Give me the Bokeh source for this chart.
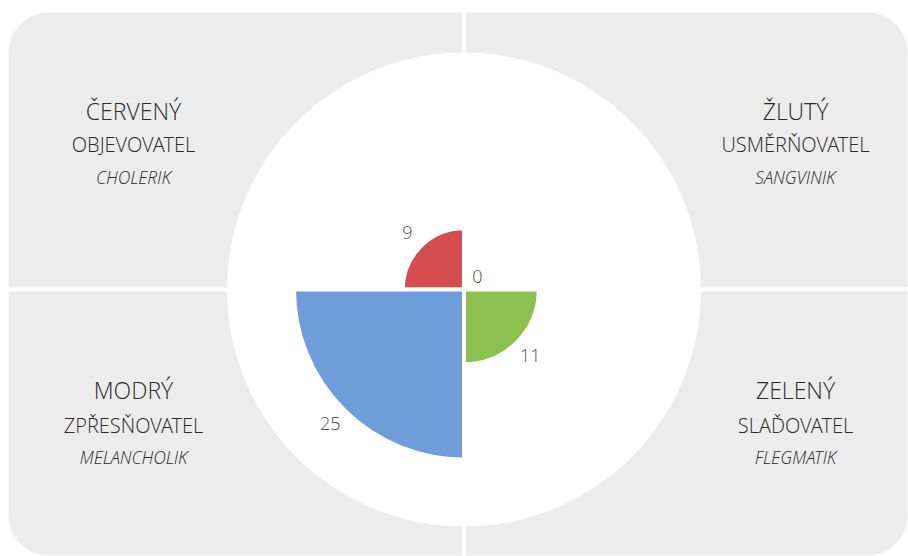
import numpy as np
from bokeh.plotting import figure
from bokeh.models import Range1d, BoxAnnotation, ColumnDataSource
from bokeh.core.properties import value
from bokeh.embed import file_html
from bokeh.resources import INLINE

# ---- data ----
colors_names = ["ČERVENÝ", "ŽLUTÝ", "ZELENÝ", "MODRÝ"]
roles = ["OBJEVOVATEL", "USMĚRŇOVATEL", "SLAĎOVATEL", "ZPŘESŇOVATEL"]
temperaments = ["CHOLERIK", "SANGVINIK", "FLEGMATIK", "MELANCHOLIK"]
counts = [9, 0, 11, 25]
fills = ["#D44D4F", "#F6BB42", "#8CC152", "#6F9DD9"]
start_deg = [90, 0, 270, 180]
end_deg = [180, 90, 360, 270]

# ---- layout (screen px -> data units, 1:1) ----
W, H = 908, 556
def sy(s):
    return 556 - s

cx, cy = 463.5, sy(289)
px_per_unit = 6.8
FONT = value("Open Sans Light, Open Sans")

p = figure(width=W, height=H, x_range=Range1d(0, 908), y_range=Range1d(0, 556),
           output_backend="svg", toolbar_location=None, min_border=0,
           background_fill_color="white", border_fill_color="white")
p.axis.visible = False
p.grid.visible = False
p.outline_line_color = None

panel = "#ECECEC"
p.add_layout(BoxAnnotation(left=8, right=461.5, top=sy(12), bottom=sy(287),
                           fill_color=panel, fill_alpha=1, line_color=None,
                           border_radius=(40, 0, 0, 0), level="underlay"))
p.add_layout(BoxAnnotation(left=465.5, right=907, top=sy(12), bottom=sy(287),
                           fill_color=panel, fill_alpha=1, line_color=None,
                           border_radius=(0, 40, 0, 0), level="underlay"))
p.add_layout(BoxAnnotation(left=465.5, right=907, top=sy(291), bottom=sy(555),
                           fill_color=panel, fill_alpha=1, line_color=None,
                           border_radius=(0, 0, 40, 0), level="underlay"))
p.add_layout(BoxAnnotation(left=8, right=461.5, top=sy(291), bottom=sy(555),
                           fill_color=panel, fill_alpha=1, line_color=None,
                           border_radius=(0, 0, 0, 40), level="underlay"))

# white disc
p.circle(x=[cx], y=[cy], radius=237, fill_color="white", line_color=None)

r = np.array(counts, dtype=float) * px_per_unit
mid = np.deg2rad((np.array(start_deg) + np.array(end_deg)) / 2.0)
src = ColumnDataSource(dict(
    r=r, start=np.deg2rad(start_deg), end=np.deg2rad(end_deg), color=fills,
    lx=cx + (r + 19) * np.cos(mid), ly=cy + (r + 19) * np.sin(mid),
    label=[str(c) for c in counts]))

p.wedge(x=cx, y=cy, radius="r", start_angle="start", end_angle="end",
        fill_color="color", line_color="white",
        line_width=4, source=src)
p.text(x="lx", y="ly", text="label", source=src, text_align="center",
       text_baseline="middle", text_font_size="18px", text_color="#505050",
       text_font=FONT)

# quadrant captions (vertical centres of the capitals)
qx = [133, 795, 795, 133]
line1 = [sy(110), sy(110), sy(389), sy(389)]
line2 = [sy(144), sy(144), sy(425), sy(425)]
line3 = [sy(176.5), sy(176.5), sy(456), sy(456)]
txt = "#2b2b2b"
p.text(x=qx, y=line1, text=colors_names, text_align="center",
       text_baseline="middle", text_font_size="23px", text_color=txt,
       text_font=FONT)
p.text(x=qx, y=line2, text=roles, text_align="center",
       text_baseline="middle", text_font_size="20px", text_color=txt,
       text_font=FONT)
p.text(x=qx, y=line3, text=temperaments, text_align="center",
       text_baseline="middle", text_font_size="17.5px", text_color=txt,
       text_font_style="italic", text_font=FONT)

open("out.html", "w").write(file_html(p, INLINE))
